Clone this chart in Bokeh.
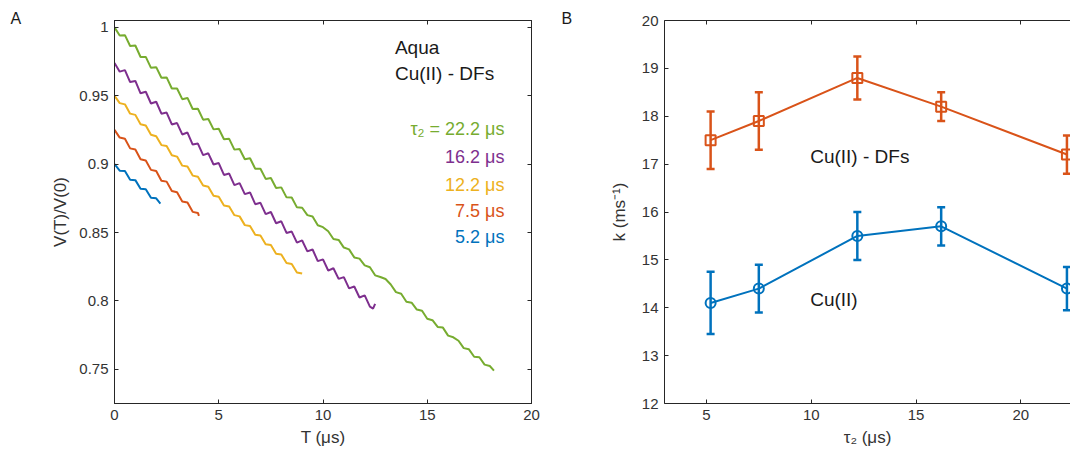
from bokeh.plotting import figure
from bokeh.layouts import row
from bokeh.models import (LinearAxis, Range1d, FixedTicker, Whisker,
                          ColumnDataSource, TeeHead, CustomJSTickFormatter)
from bokeh.embed import file_html
from bokeh.resources import INLINE
from bokeh.core.properties import value

FONT = "Liberation Sans"
AXC = "#262626"
TXC = "#333333"
C_BLUE = "#0072BD"
C_RED = "#D95319"
C_YEL = "#EDB120"
C_PUR = "#7E2F8E"
C_GRN = "#77AC30"

# ---------------- Panel A data: V(T)/V(0) traces ----------------
T_green = [0, 0.25, 0.5, 0.75, 1.0, 1.25, 1.5, 1.75, 2.0, 2.25, 2.5, 2.75, 3.0, 3.25, 3.5, 3.75,
           4.0, 4.25, 4.5, 4.75, 5.0, 5.25, 5.5, 5.75, 6.0, 6.25, 6.5, 6.75, 7.0, 7.25, 7.5, 7.75,
           8.0, 8.25, 8.5, 8.75, 9.0, 9.25, 9.5, 9.75, 10.0, 10.25, 10.5, 10.75, 11.0, 11.25, 11.5,
           11.75, 12.0, 12.25, 12.5, 12.75, 13.0, 13.25, 13.5, 13.75, 14.0, 14.25, 14.5, 14.75, 15.0,
           15.25, 15.5, 15.75, 16.0, 16.25, 16.5, 16.75, 17.0, 17.25, 17.5, 17.75, 18.0, 18.2]
V_green = [1.0000, 0.9940, 0.9943, 0.9864, 0.9867, 0.9783, 0.9784, 0.9704, 0.9709, 0.9631, 0.9634,
           0.9553, 0.9553, 0.9475, 0.9484, 0.9403, 0.9405, 0.9325, 0.9330, 0.9254, 0.9259, 0.9182,
           0.9185, 0.9106, 0.9111, 0.9036, 0.9043, 0.8966, 0.8966, 0.8892, 0.8898, 0.8825, 0.8830,
           0.8757, 0.8756, 0.8684, 0.8681, 0.8627, 0.8617, 0.8553, 0.8539, 0.8509, 0.8453, 0.8446,
           0.8390, 0.8377, 0.8318, 0.8309, 0.8260, 0.8246, 0.8187, 0.8175, 0.8160, 0.8120, 0.8064,
           0.8052, 0.7994, 0.7987, 0.7937, 0.7928, 0.7870, 0.7859, 0.7810, 0.7805, 0.7746, 0.7734,
           0.7709, 0.7655, 0.7646, 0.7592, 0.7588, 0.7534, 0.7524, 0.7490]

T_purple = [0, 0.25, 0.5, 0.75, 1.0, 1.25, 1.5, 1.75, 2.0, 2.25, 2.5, 2.75, 3.0, 3.25, 3.5, 3.75,
            4.0, 4.25, 4.5, 4.75, 5.0, 5.25, 5.5, 5.75, 6.0, 6.25, 6.5, 6.75, 7.0, 7.25, 7.5, 7.75,
            8.0, 8.25, 8.5, 8.75, 9.0, 9.25, 9.5, 9.75, 10.0, 10.25, 10.5, 10.75, 11.0, 11.25, 11.5,
            11.75, 12.0, 12.25, 12.4, 12.5]
V_purple = [0.9740, 0.9676, 0.9687, 0.9600, 0.9608, 0.9518, 0.9529, 0.9443, 0.9456, 0.9369, 0.9377,
            0.9290, 0.9300, 0.9217, 0.9231, 0.9143, 0.9150, 0.9066, 0.9079, 0.8997, 0.9008, 0.8921,
            0.8931, 0.8846, 0.8861, 0.8781, 0.8793, 0.8707, 0.8717, 0.8634, 0.8650, 0.8568, 0.8582,
            0.8497, 0.8507, 0.8426, 0.8442, 0.8362, 0.8376, 0.8291, 0.8304, 0.8222, 0.8239, 0.8161,
            0.8174, 0.8092, 0.8105, 0.8025, 0.8041, 0.7958, 0.7944, 0.7978]

T_yellow = [0, 0.25, 0.5, 0.75, 1.0, 1.25, 1.5, 1.75, 2.0, 2.25, 2.5, 2.75, 3.0, 3.25, 3.5, 3.75,
            4.0, 4.25, 4.5, 4.75, 5.0, 5.25, 5.5, 5.75, 6.0, 6.25, 6.5, 6.75, 7.0, 7.25, 7.5, 7.75,
            8.0, 8.25, 8.5, 8.75, 9.0]
V_yellow = [0.9500, 0.9446, 0.9437, 0.9369, 0.9360, 0.9292, 0.9283, 0.9215, 0.9204, 0.9139, 0.9132,
            0.9065, 0.9055, 0.8989, 0.8982, 0.8916, 0.8908, 0.8844, 0.8835, 0.8769, 0.8761, 0.8697,
            0.8690, 0.8627, 0.8618, 0.8554, 0.8547, 0.8484, 0.8478, 0.8415, 0.8408, 0.8345, 0.8339,
            0.8277, 0.8270, 0.8208, 0.8200]

T_red = [0, 0.25, 0.5, 0.75, 1.0, 1.25, 1.5, 1.75, 2.0, 2.25, 2.5, 2.75, 3.0, 3.25, 3.5, 3.75,
         4.0, 4.05]
V_red = [0.9250, 0.9194, 0.9186, 0.9115, 0.9107, 0.9035, 0.9027, 0.8958, 0.8950, 0.8879, 0.8872,
         0.8803, 0.8795, 0.8727, 0.8719, 0.8651, 0.8643, 0.8622]

T_blue = [0, 0.25, 0.5, 0.75, 1.0, 1.25, 1.5, 1.75, 2.0, 2.2]
V_blue = [0.9000, 0.8952, 0.8949, 0.8886, 0.8883, 0.8820, 0.8817, 0.8754, 0.8750, 0.8712]

legend_labels = ["\u03c4\u2082 = 22.2 \u03bcs", "16.2 \u03bcs", "12.2 \u03bcs", "7.5 \u03bcs", "5.2 \u03bcs"]
legend_colors = [C_GRN, C_PUR, C_YEL, C_RED, C_BLUE]
legend_y = [0.9255, 0.9052, 0.8849, 0.8659, 0.8470]

A_xticks = [0, 5, 10, 15, 20]
A_yticks = [0.75, 0.8, 0.85, 0.9, 0.95, 1.0]

# ---------------- Panel B data: k vs tau2 ----------------
tau2 = [5.2, 7.5, 12.2, 16.2, 22.2]
k_cu = [14.1, 14.4, 15.5, 15.7, 14.4]
k_cu_lo = [13.45, 13.9, 15.0, 15.3, 13.95]
k_cu_hi = [14.75, 14.9, 16.0, 16.1, 14.85]
k_df = [17.5, 17.9, 18.8, 18.2, 17.2]
k_df_lo = [16.9, 17.3, 18.35, 17.9, 16.8]
k_df_hi = [18.1, 18.5, 19.25, 18.5, 17.6]

B_xticks = [5, 10, 15, 20]
B_yticks = [12, 13, 14, 15, 16, 17, 18, 19, 20]

blank = CustomJSTickFormatter(code="return '';")


def style_axis(ax, ticks, labels=True):
    ax.ticker = FixedTicker(ticks=ticks)
    ax.axis_line_color = AXC
    ax.axis_line_width = 1
    ax.major_tick_line_color = AXC
    ax.major_tick_in = 4
    ax.major_tick_out = 0
    ax.minor_tick_line_color = None
    ax.major_label_text_font = FONT
    ax.major_label_text_font_size = "15px"
    ax.major_label_text_color = TXC
    ax.major_label_standoff = 6
    ax.axis_label_text_font = FONT
    ax.axis_label_text_font_size = "17px"
    ax.axis_label_text_font_style = "normal"
    ax.axis_label_text_color = TXC
    if not labels:
        ax.formatter = blank
        ax.major_label_standoff = 0


def style_title(p, letter, offset):
    p.title.text = letter
    p.title.align = "left"
    p.title.offset = offset
    p.title.standoff = -12
    p.title.text_font = FONT
    p.title.text_font_size = "16px"
    p.title.text_font_style = "normal"
    p.title.text_color = "#1a1a1a"


fmt = CustomJSTickFormatter(code="return String(Math.round(tick*100)/100);")

# ---------------- Figure A ----------------
pA = figure(width=560, height=458, x_range=Range1d(0, 20), y_range=Range1d(0.725, 1.005),
            output_backend="svg", toolbar_location=None,
            min_border_left=114, min_border_right=29, min_border_top=20, min_border_bottom=55)
pA.xgrid.visible = False
pA.ygrid.visible = False
pA.outline_line_color = AXC
pA.background_fill_color = "white"
pA.border_fill_color = "white"

style_axis(pA.xaxis[0], A_xticks)
pA.xaxis[0].axis_label = "T (\u03bcs)"
pA.xaxis[0].axis_label_standoff = 5
style_axis(pA.yaxis[0], A_yticks)
pA.yaxis[0].formatter = fmt
pA.yaxis[0].axis_label = "V(T)/V(0)"
pA.yaxis[0].axis_label_standoff = 6

topA = LinearAxis()
style_axis(topA, A_xticks, labels=False)
pA.add_layout(topA, "above")
rightA = LinearAxis()
style_axis(rightA, A_yticks, labels=False)
pA.add_layout(rightA, "right")
style_title(pA, "A", -104)

for T, V, c in [(T_blue, V_blue, C_BLUE), (T_red, V_red, C_RED), (T_yellow, V_yellow, C_YEL),
                (T_purple, V_purple, C_PUR), (T_green, V_green, C_GRN)]:
    pA.line(T, V, line_color=c, line_width=2)

pA.text(x=[13.45, 13.45], y=[0.9855, 0.9660], text=["Aqua", "Cu(II) - DFs"],
        text_font=value(FONT), text_font_size="19px", text_color="#1a1a1a",
        text_align="left", text_baseline="middle")
pA.text(x=[18.7] * 5, y=legend_y, text=legend_labels, text_color=legend_colors,
        text_font=value(FONT), text_font_size="18px",
        text_align="right", text_baseline="middle")

# ---------------- Figure B ----------------
pB = figure(width=510, height=458, x_range=Range1d(3, 22.37), y_range=Range1d(12, 20),
            output_backend="svg", toolbar_location=None,
            min_border_left=104, min_border_right=0, min_border_top=20, min_border_bottom=55)
pB.xgrid.visible = False
pB.ygrid.visible = False
pB.outline_line_color = None
pB.background_fill_color = "white"
pB.border_fill_color = "white"

style_axis(pB.xaxis[0], B_xticks)
pB.xaxis[0].axis_label = "\u03c4\u2082 (\u03bcs)"
pB.xaxis[0].axis_label_standoff = 5
style_axis(pB.yaxis[0], B_yticks)
pB.yaxis[0].axis_label = "k (ms\u207b\u00b9)"
pB.yaxis[0].axis_label_standoff = 10

topB = LinearAxis()
style_axis(topB, B_xticks, labels=False)
pB.add_layout(topB, "above")
style_title(pB, "B", -103)

src_cu = ColumnDataSource(dict(x=tau2, y=k_cu, lo=k_cu_lo, hi=k_cu_hi))
src_df = ColumnDataSource(dict(x=tau2, y=k_df, lo=k_df_lo, hi=k_df_hi))

for src, c, m in [(src_df, C_RED, "square"), (src_cu, C_BLUE, "circle")]:
    pB.line("x", "y", source=src, line_color=c, line_width=2)
    w = Whisker(source=src, base="x", upper="hi", lower="lo", line_color=c, line_width=2.5,
                upper_head=TeeHead(size=8, line_color=c, line_width=2.5),
                lower_head=TeeHead(size=8, line_color=c, line_width=2.5))
    pB.add_layout(w)
    pB.scatter("x", "y", source=src, marker=m, size=10, fill_color=None,
               line_color=c, line_width=2)

pB.text(x=[9.95, 9.95], y=[17.16, 14.18], text=["Cu(II) - DFs", "Cu(II)"],
        text_font=value(FONT), text_font_size="19px", text_color="#1a1a1a",
        text_align="left", text_baseline="middle")

layout = row(pA, pB)
open("out.html", "w").write(file_html(layout, INLINE))
